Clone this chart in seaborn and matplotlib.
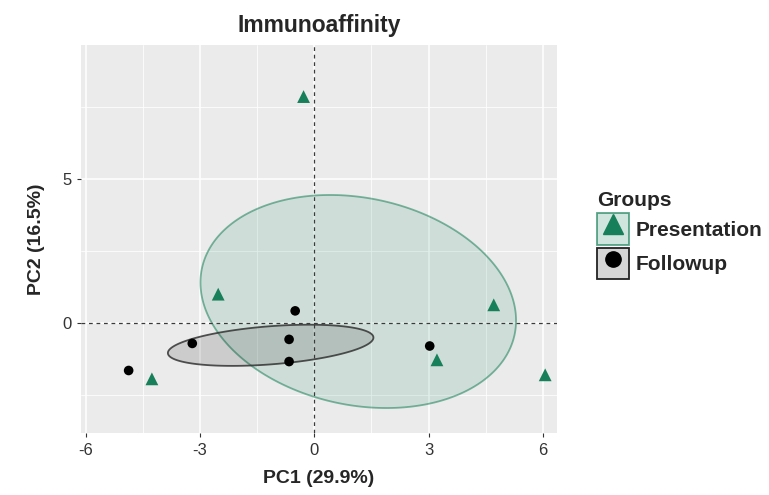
import numpy as np
import pandas as pd
import matplotlib
matplotlib.use("Agg")
import matplotlib.pyplot as plt
from matplotlib.patches import Patch
from matplotlib.lines import Line2D
from matplotlib.legend_handler import HandlerTuple
from matplotlib.ticker import MultipleLocator
import seaborn as sns

# PCA scores of the individuals
groups = ["Presentation"] * 6 + ["Followup"] * 6
pc1 = [-0.28, -2.52, 4.71, 3.22, 6.06, -4.26,
       -0.50, -0.66, -0.66, -3.20, -4.87, 3.03]
pc2 = [7.86, 1.00, 0.63, -1.28, -1.80, -1.94,
       0.42, -0.57, -1.34, -0.71, -1.65, -0.80]

group_order = ["Presentation", "Followup"]
x_ticks = [-6, -3, 0, 3, 6]
y_ticks = [0, 5]

df = pd.DataFrame({"PC1": pc1, "PC2": pc2, "Groups": groups})

sns.set_theme(style="darkgrid")
plt.rcParams["font.family"] = ["Liberation Sans", "DejaVu Sans"]
plt.rcParams["axes.unicode_minus"] = False

colors = {"Presentation": "#17805a", "Followup": "#000000"}
fills = {"Presentation": (0.09, 0.50, 0.35, 0.13), "Followup": (0.0, 0.0, 0.0, 0.13)}
edges = {"Presentation": (0.09, 0.50, 0.35, 0.55), "Followup": (0.2, 0.2, 0.2, 0.85)}
key_fills = {"Presentation": (0.09, 0.50, 0.35, 0.2), "Followup": (0.0, 0.0, 0.0, 0.16)}
key_edges = {"Presentation": (0.09, 0.50, 0.35, 0.7), "Followup": "#222222"}
markers = {"Presentation": "^", "Followup": "o"}
msize = {"Presentation": 85, "Followup": 48}
key_msize = {"Presentation": 15, "Followup": 11}

fig = plt.figure(figsize=(7.69, 4.95), dpi=100)
ax = fig.add_axes([81 / 769, 1 - 433 / 495, (557 - 81) / 769, (433 - 45) / 495])
ax.set_facecolor("#EBEBEB")

# 95% confidence ellipses around each group barycentre
r = np.sqrt(-2 * np.log(0.05))
t = np.linspace(0, 2 * np.pi, 300)
for g in group_order:
    sub = df[df["Groups"] == g]
    pts = sub[["PC1", "PC2"]].to_numpy()
    centre = pts.mean(axis=0)
    cov = np.cov(pts, rowvar=False) / len(pts)
    vals, vecs = np.linalg.eigh(cov)
    circle = np.vstack([np.cos(t), np.sin(t)])
    ell = (vecs @ np.diag(np.sqrt(vals) * r) @ circle).T + centre
    ax.fill(ell[:, 0], ell[:, 1], facecolor=fills[g], edgecolor=edges[g],
            linewidth=1.3, zorder=2)

ax.axhline(0, color="#3a3a3a", linestyle=(0, (3, 3)), linewidth=0.9, zorder=3)
ax.axvline(0, color="#3a3a3a", linestyle=(0, (3, 3)), linewidth=0.9, zorder=3)

for g in group_order:
    sns.scatterplot(data=df[df["Groups"] == g], x="PC1", y="PC2", ax=ax,
                    marker=markers[g], s=msize[g], color=colors[g],
                    edgecolor="none", linewidth=0, zorder=4, legend=False)

ax.set_xlim(-6.12, 6.37)
ax.set_ylim(-3.82, 9.65)
ax.set_xticks(x_ticks)
ax.set_yticks(y_ticks)
ax.xaxis.set_minor_locator(MultipleLocator(1.5))
ax.yaxis.set_minor_locator(MultipleLocator(2.5))
ax.grid(which="major", color="white", linewidth=1.1)
ax.grid(which="minor", color="white", linewidth=0.55)
for s in ax.spines.values():
    s.set_visible(False)
ax.tick_params(which="major", length=3, width=0.8, color="#333333",
               labelsize=12, labelcolor="#333333", pad=4,
               bottom=True, left=True)
ax.tick_params(which="minor", length=0)

ax.set_xlabel("PC1 (29.9%)", fontsize=14, fontweight="bold", labelpad=9)
ax.set_ylabel("PC2 (16.5%)", fontsize=14, fontweight="bold", labelpad=12)
ax.set_title("Immunoaffinity", fontsize=16.5, fontweight="bold", pad=9)

handles = []
for g in group_order:
    box = Patch(facecolor=key_fills[g], edgecolor=key_edges[g], linewidth=1.3)
    mk = Line2D([], [], linestyle="none", marker=markers[g], color=colors[g],
                markersize=key_msize[g])
    handles.append((box, mk))

leg = ax.legend(handles, group_order, title="Groups",
                handler_map={tuple: HandlerTuple(ndivide=1, pad=0)},
                loc="upper left", bbox_to_anchor=(597 / 769, 1 - 191 / 495),
                bbox_transform=fig.transFigure, frameon=False,
                prop={"size": 15, "weight": "bold"},
                handlelength=1.55, handleheight=1.95, handletextpad=0.3,
                labelspacing=0.15, borderaxespad=0, borderpad=0)
leg.get_title().set_fontsize(15)
leg.get_title().set_fontweight("bold")
leg._legend_box.align = "left"

fig.savefig("out.png", dpi=100, facecolor="white")
